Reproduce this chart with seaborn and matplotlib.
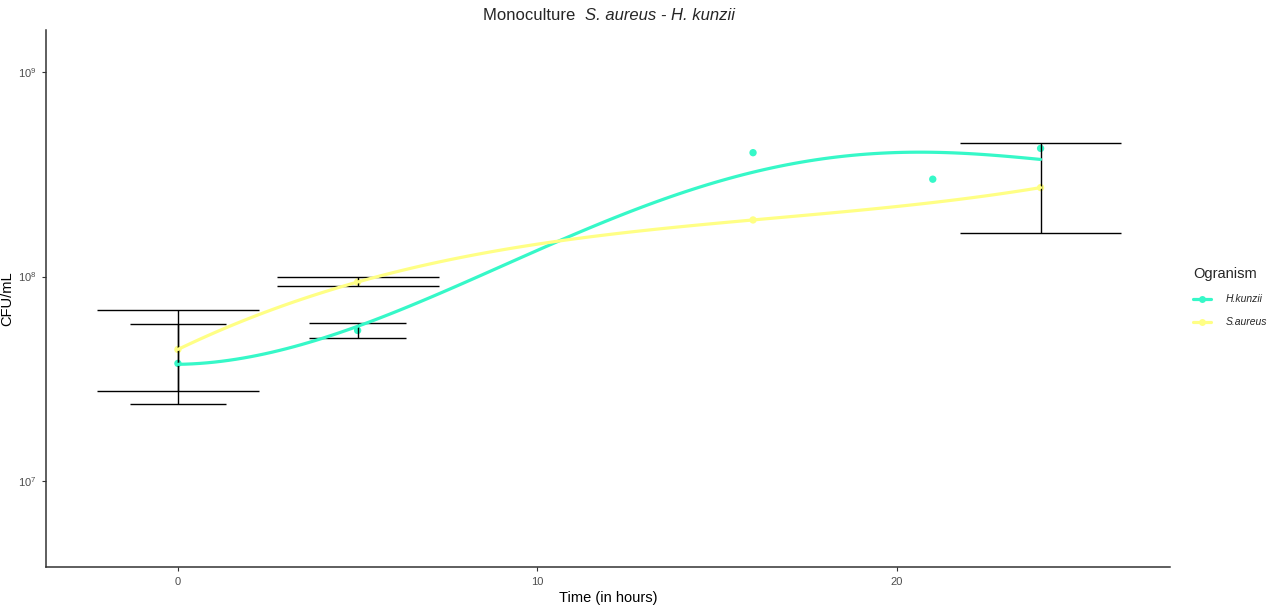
import numpy as np
import pandas as pd
import matplotlib
matplotlib.use("Agg")
import matplotlib.pyplot as plt
import seaborn as sns
from matplotlib.lines import Line2D

# ---------------- data ----------------
organisms = ["H.kunzii", "S.aureus"]
time_hk = [0, 5, 16, 21, 24]
cfu_hk = [3.76e7, 5.45e7, 4.03e8, 2.99e8, 4.23e8]
time_sa = [0, 5, 16, 24]
cfu_sa = [4.4e7, 9.4e7, 1.89e8, 2.72e8]

err_time_hk = [0, 5]
err_lo_hk = [2.39e7, 4.98e7]
err_hi_hk = [5.89e7, 5.94e7]
err_time_sa = [0, 5, 24]
err_lo_sa = [2.77e7, 8.97e7, 1.64e8]
err_hi_sa = [6.87e7, 9.92e7, 4.49e8]

colors = {"H.kunzii": "#36F8C8", "S.aureus": "#FFFF85"}

sns.set_style("white")
plt.rcParams["font.family"] = ["Liberation Sans", "DejaVu Sans"]
plt.rcParams["mathtext.fontset"] = "custom"
plt.rcParams["mathtext.rm"] = "Liberation Sans"
plt.rcParams["mathtext.it"] = "Liberation Sans:italic"


def local_smooth(x, y, grid, bw=12.0, deg=3):
    """local polynomial regression (gaussian kernel) on log10 values"""
    x = np.asarray(x, float)
    ly = np.log10(np.asarray(y, float))
    deg = min(deg, len(x) - 1)
    out = []
    for g in grid:
        w = np.exp(-0.5 * ((x - g) / bw) ** 2)
        coef = np.polyfit(x - g, ly, deg, w=np.sqrt(w))
        out.append(coef[-1])
    return 10 ** np.array(out)


pts = pd.DataFrame({
    "time": time_hk + time_sa,
    "cfu": cfu_hk + cfu_sa,
    "Ogranism": ["H.kunzii"] * len(time_hk) + ["S.aureus"] * len(time_sa),
})

smooth_frames = []
for org, tx, cy in [("H.kunzii", time_hk, cfu_hk), ("S.aureus", time_sa, cfu_sa)]:
    grid = np.linspace(min(tx), max(tx), 120)
    smooth_frames.append(pd.DataFrame({"time": grid, "cfu": local_smooth(tx, cy, grid),
                                       "Ogranism": org}))
smooth = pd.concat(smooth_frames, ignore_index=True)

fig = plt.figure(figsize=(12.8, 6.1), dpi=100)
ax = fig.add_axes([46 / 1280, 43 / 610, 1124 / 1280, 537 / 610])
ax.set_yscale("log")

sns.scatterplot(data=pts, x="time", y="cfu", hue="Ogranism", palette=colors,
                s=28, linewidth=0, ax=ax, legend=False, zorder=2)

# error bars
for tx, lo, hi, hw in [(err_time_sa, err_lo_sa, err_hi_sa, 2.25),
                       (err_time_hk, err_lo_hk, err_hi_hk, 1.34)]:
    tx = np.asarray(tx, float)
    ax.vlines(tx, lo, hi, color="black", lw=1.0, zorder=3)
    ax.hlines(lo, tx - hw, tx + hw, color="black", lw=1.0, zorder=3)
    ax.hlines(hi, tx - hw, tx + hw, color="black", lw=1.0, zorder=3)

sns.lineplot(data=smooth, x="time", y="cfu", hue="Ogranism", palette=colors,
             lw=2.3, ax=ax, legend=False, zorder=4, estimator=None, sort=True)

ax.set_xlim(-3.67, 27.6)
ax.set_ylim(10 ** 6.58, 10 ** 9.205)
ax.set_yticks([1e7, 1e8, 1e9])
ax.set_yticklabels([r"$10^{7}$", r"$10^{8}$", r"$10^{9}$"])
ax.yaxis.set_minor_locator(matplotlib.ticker.NullLocator())
ax.set_xticks([0, 10, 20])
ax.set_xticklabels(["0", "10", "20"])
ax.tick_params(axis="both", colors="#333333", labelcolor="#4D4D4D", labelsize=8,
               length=3, width=0.8, direction="out", pad=4, left=True, bottom=True)
for s in ["top", "right"]:
    ax.spines[s].set_visible(False)
for s in ["left", "bottom"]:
    ax.spines[s].set_color("#333333")
    ax.spines[s].set_linewidth(1.1)
ax.set_xlabel("Time (in hours)", fontsize=10.5, color="black", labelpad=3)
ax.set_ylabel("CFU/mL", fontsize=10.5, color="black")
ax.yaxis.set_label_coords((14 - 46) / 1124, 0.5)
ax.grid(False)

# title: regular + italic part
t1 = fig.text(0, 1 - 15 / 610, "Monoculture  ", fontsize=12, va="center", ha="left")
t2 = fig.text(0, 1 - 15 / 610, "S. aureus - H. kunzii", fontsize=12, va="center",
              ha="left", style="italic")
fig.canvas.draw()
r = fig.canvas.get_renderer()
w1 = t1.get_window_extent(r).width
w2 = t2.get_window_extent(r).width
start = 609 - (w1 + w2) / 2
t1.set_x(start / 1280)
t2.set_x((start + w1) / 1280)

handles = [Line2D([0], [0], color=colors[o], lw=2.3, marker="o", markersize=5,
                  markeredgewidth=0) for o in organisms]
leg = fig.legend(handles, organisms, title="Ogranism", loc="upper left",
                 bbox_to_anchor=(1184 / 1280, 1 - 258 / 610), frameon=False,
                 fontsize=7.5, title_fontsize=10.5, handlelength=1.7, handletextpad=1.4,
                 labelspacing=1.25, alignment="left")
for t in leg.get_texts():
    t.set_fontstyle("italic")

fig.savefig("out.png", dpi=100)
